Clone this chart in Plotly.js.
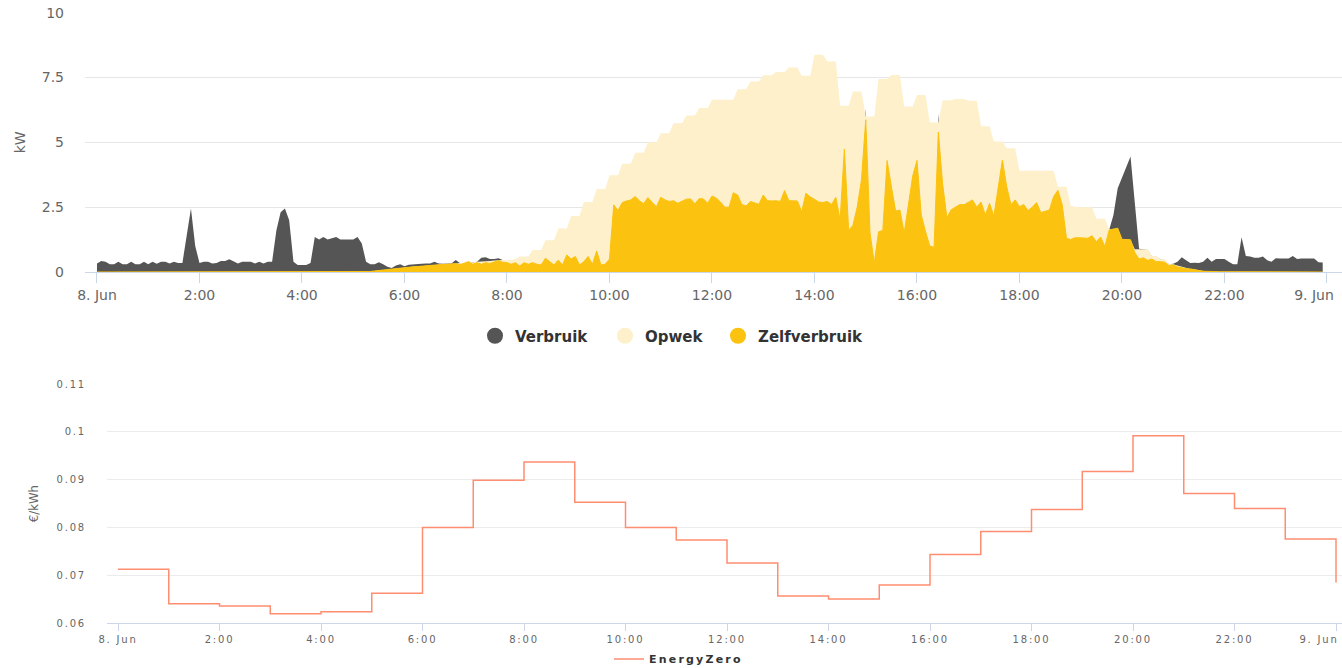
<!DOCTYPE html>
<html>
<head>
<meta charset="utf-8">
<script src="https://cdn.plot.ly/plotly-3.0.1.min.js"></script>
<style>
  html, body { margin: 0; padding: 0; background: #ffffff; }
  #chart { width: 1342px; height: 668px; }
  .x2tick text, .y2tick text, .x4tick text { letter-spacing: 1.8px; }
  text[data-unformatted="EnergyZero"] { letter-spacing: 2.2px; }
</style>
</head>
<body>
<div id="chart"></div>
<script>
// ---- Data: 5-minute samples, 8 Jun 00:00 .. 23:55 (kW) ----
const verbruik = [
  0.33,0.42,0.40,0.30,0.30,0.40,0.30,0.30,0.40,0.30,0.30,0.40,
  0.30,0.40,0.32,0.40,0.40,0.33,0.40,0.35,0.35,1.50,2.45,1.00,
  0.35,0.40,0.40,0.33,0.35,0.42,0.42,0.49,0.42,0.33,0.40,0.40,
  0.40,0.33,0.40,0.33,0.40,0.40,1.60,2.30,2.45,2.00,0.40,0.27,
  0.27,0.27,0.35,1.35,1.25,1.35,1.25,1.30,1.35,1.25,1.25,1.25,
  1.25,1.35,1.10,0.40,0.30,0.30,0.38,0.30,0.20,0.15,0.25,0.30,
  0.22,0.28,0.30,0.30,0.32,0.33,0.33,0.40,0.33,0.32,0.32,0.33,
  0.46,0.34,0.34,0.40,0.38,0.40,0.55,0.57,0.50,0.50,0.53,0.46,
  0.46,0.30,0.36,0.23,0.36,0.30,0.36,0.30,0.27,0.53,0.40,0.27,
  0.46,0.27,0.66,0.50,0.60,0.27,0.40,0.60,0.30,0.81,0.27,0.30,
  0.50,2.59,2.37,2.68,2.74,2.78,2.91,2.75,2.63,2.87,2.68,2.52,
  2.88,2.78,2.72,2.75,2.65,2.72,2.81,2.82,2.63,2.83,2.82,2.65,
  2.93,2.85,2.70,2.50,2.50,3.06,2.97,2.60,2.55,2.72,2.65,2.61,
  2.97,2.75,2.74,2.75,2.72,3.14,2.75,2.74,2.74,2.33,3.04,2.90,
  2.80,2.70,2.68,2.72,2.60,2.88,2.01,4.74,1.60,1.80,2.50,3.55,
  6.30,1.50,0.35,1.55,1.60,4.30,3.30,2.35,2.39,1.50,2.60,3.70,
  4.30,2.20,1.56,1.00,0.95,6.10,3.40,2.10,2.40,2.50,2.60,2.59,
  2.70,2.78,2.50,2.70,2.20,2.65,2.16,3.20,4.32,3.30,2.60,2.78,
  2.52,2.60,2.37,2.50,2.68,2.29,2.35,2.39,2.91,3.15,2.60,1.30,
  1.25,1.32,1.32,1.30,1.30,1.40,1.17,1.35,0.98,1.62,2.20,3.23,
  3.65,4.00,4.45,2.67,0.90,0.88,0.85,0.60,0.60,0.48,0.45,0.30,
  0.32,0.40,0.57,0.45,0.35,0.36,0.35,0.40,0.55,0.40,0.50,0.50,
  0.50,0.40,0.30,0.30,1.34,0.62,0.60,0.55,0.55,0.60,0.45,0.40,
  0.53,0.52,0.52,0.52,0.62,0.50,0.52,0.52,0.52,0.52,0.38,0.37
];
const opwek = [
  0,0,0,0,0,0,0,0,0,0,0,0,
  0,0,0,0,0,0,0,0,0,0,0,0,
  0,0,0,0,0,0,0,0,0,0,0,0,
  0,0,0,0,0,0,0,0,0,0,0,0,
  0,0,0,0,0,0,0,0,0,0,0,0,
  0,0,0,0,0.02,0.04,0.06,0.08,0.10,0.12,0.14,0.15,
  0.17,0.18,0.20,0.21,0.23,0.24,0.26,0.27,0.28,0.29,0.30,0.31,
  0.33,0.34,0.36,0.40,0.38,0.40,0.40,0.42,0.42,0.44,0.46,0.46,
  0.46,0.46,0.50,0.60,0.60,0.60,0.85,0.85,0.85,1.22,1.22,1.22,
  1.68,1.68,1.68,2.16,2.16,2.16,2.70,2.70,2.70,3.20,3.20,3.20,
  3.73,3.73,3.73,4.17,4.17,4.17,4.60,4.60,4.60,5.00,5.00,5.00,
  5.35,5.35,5.35,5.74,5.74,5.74,6.04,6.04,6.04,6.32,6.32,6.32,
  6.64,6.64,6.64,6.64,6.64,6.64,7.05,7.05,7.05,7.35,7.35,7.35,
  7.59,7.59,7.59,7.71,7.71,7.71,7.89,7.89,7.89,7.57,7.57,7.57,
  8.38,8.38,8.38,8.12,8.12,8.12,6.41,6.41,6.41,6.96,6.96,6.96,
  6.00,6.00,6.00,7.44,7.44,7.44,7.60,7.60,7.60,6.38,6.38,6.38,
  6.83,6.83,6.83,5.77,5.77,5.77,6.62,6.62,6.62,6.67,6.67,6.67,
  6.60,6.60,6.60,5.62,5.62,5.62,5.03,5.03,5.03,4.77,4.77,4.77,
  3.90,3.90,3.90,3.90,3.90,3.90,3.90,3.90,3.90,3.29,3.29,3.29,
  2.55,2.52,2.50,2.50,2.50,2.50,2.05,2.05,2.05,1.65,1.65,1.69,
  1.26,1.26,1.24,0.88,0.88,0.88,0.88,0.62,0.62,0.49,0.49,0.31,
  0.30,0.25,0.20,0.15,0.12,0.10,0.06,0.04,0.02,0.01,0.01,0.01,
  0.01,0.01,0.01,0.01,0.01,0.01,0,0,0,0,0,0,
  0,0,0,0,0,0,0,0,0,0,0,0
];
const zelfverbruik = [
  0,0,0,0,0,0,0,0,0,0,0,0,
  0,0,0,0,0,0,0,0,0,0,0,0,
  0,0,0,0,0,0,0,0,0,0,0,0,
  0,0,0,0,0,0,0,0,0,0,0,0,
  0,0,0,0,0,0,0,0,0,0,0,0,
  0,0,0,0,0.02,0.04,0.06,0.08,0.10,0.12,0.14,0.15,
  0.17,0.18,0.20,0.21,0.23,0.24,0.26,0.27,0.28,0.29,0.30,0.31,
  0.32,0.28,0.33,0.40,0.30,0.36,0.30,0.36,0.33,0.38,0.44,0.38,
  0.36,0.30,0.36,0.23,0.36,0.30,0.36,0.30,0.27,0.53,0.40,0.27,
  0.46,0.27,0.66,0.50,0.60,0.27,0.40,0.60,0.30,0.81,0.27,0.30,
  0.50,2.59,2.37,2.68,2.74,2.78,2.91,2.75,2.63,2.87,2.68,2.52,
  2.88,2.78,2.72,2.75,2.65,2.72,2.81,2.82,2.63,2.83,2.82,2.65,
  2.93,2.85,2.70,2.50,2.50,3.06,2.97,2.60,2.55,2.72,2.65,2.61,
  2.97,2.75,2.74,2.75,2.72,3.14,2.75,2.74,2.74,2.33,3.04,2.90,
  2.80,2.70,2.68,2.72,2.60,2.88,2.01,4.74,1.60,1.80,2.50,3.55,
  5.87,1.50,0.35,1.55,1.60,4.30,3.30,2.35,2.39,1.50,2.60,3.70,
  4.30,2.20,1.56,1.00,0.95,5.40,3.40,2.10,2.40,2.50,2.60,2.59,
  2.70,2.78,2.50,2.70,2.20,2.65,2.16,3.20,4.32,3.30,2.60,2.78,
  2.52,2.60,2.37,2.50,2.68,2.29,2.35,2.39,2.91,3.15,2.60,1.30,
  1.25,1.32,1.32,1.30,1.30,1.40,1.17,1.35,0.98,1.62,1.65,1.69,
  1.26,1.26,1.24,0.75,0.50,0.55,0.45,0.50,0.40,0.40,0.38,0.25,
  0.27,0.20,0.16,0.13,0.12,0.10,0.06,0.03,0.02,0.01,0.01,0.01,
  0.01,0.01,0.01,0.01,0.01,0.01,0,0,0,0,0,0,
  0,0,0,0,0,0,0,0,0,0,0,0
];
// Hourly EnergyZero price (€/kWh), hour 0 .. 24
const prijsUren = [0,1,2,3,4,5,6,7,8,9,10,11,12,13,14,15,16,17,18,19,20,21,22,23,24];
const prijs = [0.0713,0.0641,0.0636,0.0620,0.0624,0.0663,0.0800,0.0899,0.0937,0.0853,0.0800,0.0774,
               0.0726,0.0657,0.0651,0.0680,0.0744,0.0792,0.0838,0.0917,0.0992,0.0871,0.0840,0.0776,0.0685];

const tickHours = [0,2,4,6,8,10,12,14,16,18,20,22,24];
const tickLabels = ['8. Jun','2:00','4:00','6:00','8:00','10:00','12:00','14:00','16:00','18:00','20:00','22:00','9. Jun'];
// the last label is drawn by an overlaying axis that shifts it inward, like the original
const mainTickText = tickLabels.slice(0, 12).concat(['']);
const endTickVals = tickHours.slice(12);
const endTickText = tickLabels.slice(12);
const yTopTicks = [0, 2.5, 5, 7.5, 10];
const yTopLabels = ['0', '2.5', '5', '7.5', '10'];
const yBotTicks = [0.06, 0.07, 0.08, 0.09, 0.1, 0.11];
const yBotLabels = ['0.06', '0.07', '0.08', '0.09', '0.1', '0.11'];

const seriesNames = ['Verbruik', 'Opwek', 'Zelfverbruik'];
const seriesColors = ['#555555', '#fdf0cb', '#fbc20f'];
const priceName = 'EnergyZero';

// sample times (hours) derived from 5-minute interval index
const t5 = verbruik.map((_, i) => i / 12);

const W = 1342, H = 668;
const fy = px => (H - px) / H;

const traces = [];
[verbruik, opwek, zelfverbruik].forEach((vals, k) => {
  traces.push({
    type: 'scatter', mode: 'lines', x: t5, y: vals,
    fill: 'tozeroy', fillcolor: seriesColors[k],
    line: { color: seriesColors[k], width: k === 2 ? 1 : 0 },
    xaxis: 'x', yaxis: 'y', showlegend: false, hoverinfo: 'skip'
  });
});
// legend markers (circles); attached to the overlaying label axis
seriesNames.forEach((n, k) => {
  traces.push({
    type: 'scatter', mode: 'markers', x: [null], y: [null], name: n,
    marker: { size: 16, color: seriesColors[k] },
    xaxis: 'x3', yaxis: 'y', showlegend: true,
    legend: k === 0 ? 'legend' : ('legend' + (k + 1))
  });
});
traces.push({
  type: 'scatter', mode: 'lines', x: prijsUren, y: prijs, name: priceName,
  line: { shape: 'hv', color: '#ff8d70', width: 1.5 },
  xaxis: 'x2', yaxis: 'y2', showlegend: true, legend: 'legend4', hoverinfo: 'skip'
});
traces.push({
  type: 'scatter', mode: 'lines', x: [null], y: [null],
  xaxis: 'x4', yaxis: 'y2', showlegend: false, hoverinfo: 'skip'
});

const topFont = { family: 'DejaVu Sans, sans-serif', size: 14, color: '#666666' };
const botFont = { family: 'DejaVu Sans, sans-serif', size: 10, color: '#666666' };
const legFont = { family: 'DejaVu Sans, sans-serif', size: 15, color: '#333333', weight: 'bold' };

function legendAt(xpx, ypx, font) {
  return { orientation: 'h', x: xpx / W, xanchor: 'left', y: fy(ypx), yanchor: 'middle',
           bgcolor: 'rgba(0,0,0,0)', borderwidth: 0, font: font };
}

const topRange = [-0.234, 24.293];
const botRange = [-0.2167, 24.118];

const layout = {
  width: W, height: H,
  margin: { l: 0, r: 0, t: 0, b: 0, autoexpand: false },
  paper_bgcolor: '#ffffff', plot_bgcolor: '#ffffff',
  showlegend: true,
  xaxis: {
    domain: [85 / W, 1], range: topRange,
    tickmode: 'array', tickvals: tickHours, ticktext: mainTickText,
    showgrid: false, zeroline: false,
    showline: true, linecolor: '#ccd6eb', linewidth: 1,
    ticks: 'outside', ticklen: 10, tickcolor: '#ccd6eb', tickwidth: 1,
    tickfont: topFont, anchor: 'y'
  },
  xaxis3: {
    overlaying: 'x', anchor: 'y', side: 'bottom', range: topRange,
    tickmode: 'array', tickvals: endTickVals, ticktext: endTickText,
    showgrid: false, zeroline: false, showline: false,
    ticks: 'outside', ticklen: 10, tickcolor: 'rgba(0,0,0,0)',
    tickfont: topFont, ticklabelshift: -13, ticklabeloverflow: 'allow'
  },
  yaxis: {
    domain: [fy(272), fy(12.7)], range: [0, 10],
    tickmode: 'array', tickvals: yTopTicks, ticktext: yTopLabels,
    showgrid: true, gridcolor: '#e6e6e6', gridwidth: 1, zeroline: false, showline: false,
    tickfont: topFont, ticklabelstandoff: 20, anchor: 'x',
    title: { text: 'kW', font: { family: 'DejaVu Sans, sans-serif', size: 14, color: '#666666' }, standoff: 12 }
  },
  xaxis2: {
    domain: [107 / W, 1], range: botRange,
    tickmode: 'array', tickvals: tickHours, ticktext: mainTickText,
    showgrid: false, zeroline: false,
    showline: true, linecolor: '#ccd6eb', linewidth: 1,
    ticks: 'outside', ticklen: 7, tickcolor: '#ccd6eb', tickwidth: 1,
    tickfont: botFont, anchor: 'y2'
  },
  xaxis4: {
    overlaying: 'x2', anchor: 'y2', side: 'bottom', range: botRange,
    tickmode: 'array', tickvals: endTickVals, ticktext: endTickText,
    showgrid: false, zeroline: false, showline: false,
    ticks: 'outside', ticklen: 7, tickcolor: 'rgba(0,0,0,0)',
    tickfont: botFont, ticklabelshift: -17, ticklabeloverflow: 'allow'
  },
  yaxis2: {
    domain: [fy(623.3), fy(384)], range: [0.06, 0.11],
    tickmode: 'array', tickvals: yBotTicks, ticktext: yBotLabels,
    showgrid: true, gridcolor: '#ececec', gridwidth: 1, zeroline: false, showline: false,
    tickfont: botFont, ticklabelstandoff: 20, anchor: 'x2',
    title: { text: '€/kWh', font: { family: 'Liberation Sans Narrow, DejaVu Sans Condensed, sans-serif', size: 13, color: '#666666' }, standoff: 14 }
  },
  legend: legendAt(475, 336, legFont),
  legend2: legendAt(605, 336, legFont),
  legend3: legendAt(718, 336, legFont),
  legend4: legendAt(609, 659, { family: 'DejaVu Sans, sans-serif', size: 11, color: '#333333', weight: 'bold' })
};

Plotly.newPlot('chart', traces, layout, { staticPlot: true, displayModeBar: false }).then(() => {
  document.querySelectorAll('#chart text').forEach(t => {
    if (t.textContent.trim() === priceName) t.setAttribute('letter-spacing', '2.2');
  });
});
</script>
</body>
</html>
